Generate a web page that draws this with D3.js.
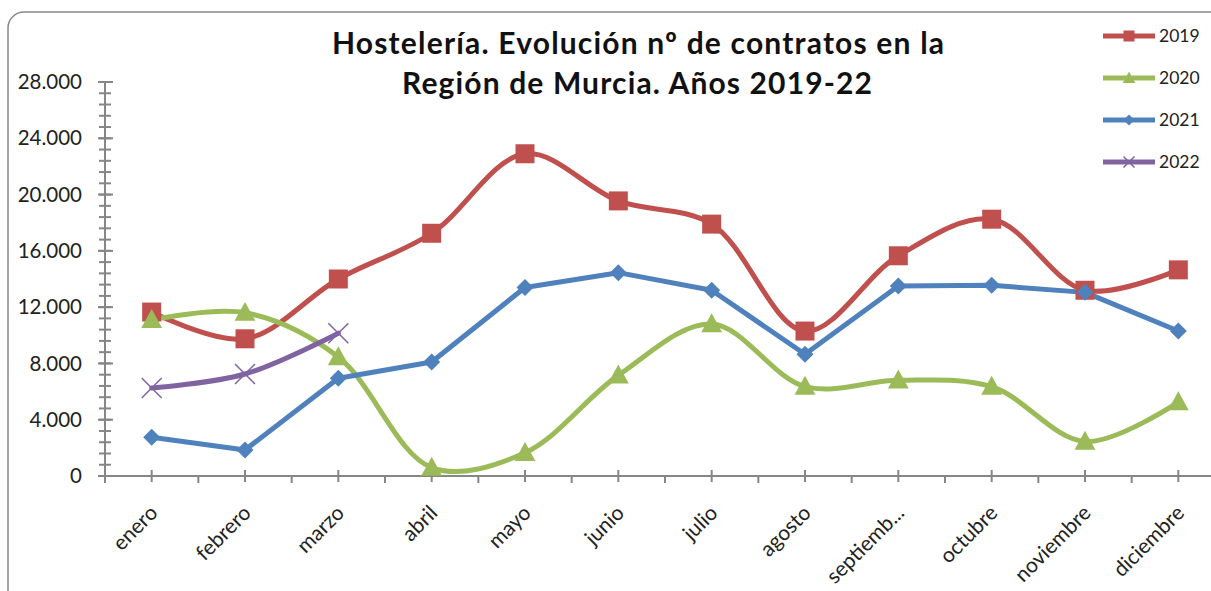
<!DOCTYPE html>
<html>
<head>
<meta charset="utf-8">
<script src="https://cdn.jsdelivr.net/npm/d3@7"></script>
<style>
  body { margin: 0; background: #fff; }
  svg { display: block; font-family: Lato, "Open Sans", sans-serif; }
</style>
</head>
<body>
<div id="chart"></div>
<script>
// Monate (Kategorien)
const meses = ["enero", "febrero", "marzo", "abril", "mayo", "junio", "julio",
  "agosto", "septiemb...", "octubre", "noviembre", "diciembre"];

// Werte pro Jahr
const v2019 = [11650, 9750, 14000, 17250, 22900, 19550, 17900, 10300, 15650, 18250, 13200, 14650];
const v2020 = [11100, 11600, 8450, 600, 1650, 7150, 10800, 6350, 6800, 6350, 2450, 5250];
const v2021 = [2750, 1850, 6950, 8100, 13400, 14450, 13200, 8650, 13500, 13550, 13050, 10300];
const v2022 = [6250, 7250, 10150];

const yTicks = [0, 4000, 8000, 12000, 16000, 20000, 24000, 28000];

const series = [
  { name: "2019", values: v2019, color: "#C0504D", marker: "square", smooth: true },
  { name: "2020", values: v2020, color: "#9BBB59", marker: "triangle", smooth: true },
  { name: "2021", values: v2021, color: "#4F81BD", marker: "diamond", smooth: false },
  { name: "2022", values: v2022, color: "#8064A2", marker: "cross", smooth: true },
];

const width = 1211, height = 591;
const x0 = 105, x1 = 1225, yTop = 82, yBottom = 476;

const svg = d3.select("#chart").append("svg")
  .attr("width", width)
  .attr("height", height);

// Rahmen
svg.append("rect")
  .attr("x", 8).attr("y", 12)
  .attr("width", 1250).attr("height", 640)
  .attr("rx", 16)
  .attr("fill", "#fff")
  .attr("stroke", "#888")
  .attr("stroke-width", 1.5);

// Skalen
const x = d3.scaleBand().domain(meses).range([x0, x1]);
const xc = d => x(d) + x.bandwidth() / 2;
const y = d3.scaleLinear().domain([0, 28000]).range([yBottom, yTop]);

const fmt = d3.formatLocale({ decimal: ",", thousands: ".", grouping: [3], currency: ["", "€"] }).format(",.0f");

// Y-Achse
const yAxis = svg.append("g").attr("transform", `translate(${x0},0)`);
yAxis.append("line")
  .attr("y1", y(0)).attr("y2", y(28000))
  .attr("stroke", "#868686").attr("stroke-width", 2);
yAxis.selectAll(".minor")
  .data(d3.range(0, 28001, 800))
  .join("line")
  .attr("x1", -6).attr("x2", 6)
  .attr("y1", d => y(d)).attr("y2", d => y(d))
  .attr("stroke", "#868686").attr("stroke-width", 2);
yAxis.selectAll(".major")
  .data(yTicks)
  .join("line")
  .attr("x1", -7).attr("x2", 8)
  .attr("y1", d => y(d)).attr("y2", d => y(d))
  .attr("stroke", "#868686").attr("stroke-width", 2);
yAxis.selectAll("text")
  .data(yTicks)
  .join("text")
  .attr("x", -23)
  .attr("y", d => y(d))
  .attr("dy", "0.35em")
  .attr("text-anchor", "end")
  .attr("font-size", 20.5)
  .attr("fill", "#222")
  .text(d => fmt(d));

// X-Achse
const xAxis = svg.append("g").attr("transform", `translate(0,${yBottom})`);
xAxis.append("line")
  .attr("x1", x0).attr("x2", x1)
  .attr("stroke", "#868686").attr("stroke-width", 2);
xAxis.selectAll(".major")
  .data(meses)
  .join("line")
  .attr("x1", d => xc(d)).attr("x2", d => xc(d))
  .attr("y1", -6).attr("y2", 6)
  .attr("stroke", "#868686").attr("stroke-width", 2);
xAxis.selectAll(".minor")
  .data(meses)
  .join("line")
  .attr("x1", d => x(d)).attr("x2", d => x(d))
  .attr("y1", 0).attr("y2", 7)
  .attr("stroke", "#868686").attr("stroke-width", 2);
xAxis.selectAll("text")
  .data(meses)
  .join("text")
  .attr("transform", d => `translate(${xc(d) + 2},${33}) rotate(-45)`)
  .attr("text-anchor", "end")
  .attr("dy", "0.35em")
  .attr("font-size", 21)
  .attr("fill", "#222")
  .text(d => d);

// Marker
function drawMarker(g, type, color, s) {
  if (type === "square") {
    g.append("rect").attr("x", -s / 2).attr("y", -s / 2).attr("width", s).attr("height", s)
      .attr("fill", color);
  } else if (type === "triangle") {
    g.append("path").attr("d", `M0,${-s * 0.6}L${s * 0.58},${s * 0.45}L${-s * 0.58},${s * 0.45}Z`)
      .attr("fill", color);
  } else if (type === "diamond") {
    g.append("path").attr("d", `M0,${-s / 2}L${s / 2},0L0,${s / 2}L${-s / 2},0Z`)
      .attr("fill", color);
  } else if (type === "cross") {
    g.append("path").attr("d", `M${-s / 2},${-s / 2}L${s / 2},${s / 2}M${s / 2},${-s / 2}L${-s / 2},${s / 2}`)
      .attr("stroke", color).attr("stroke-width", 1.5).attr("fill", "none");
  }
}

const markerSize = { square: 19, triangle: 18, diamond: 17, cross: 20 };

// Linien
series.forEach(s => {
  const line = d3.line()
    .x((d, i) => xc(meses[i]))
    .y(d => y(d))
    .curve(s.smooth ? d3.curveCatmullRom.alpha(0.5) : d3.curveLinear);
  svg.append("path")
    .datum(s.values)
    .attr("d", line)
    .attr("fill", "none")
    .attr("stroke", s.color)
    .attr("stroke-width", 5)
    .attr("stroke-linejoin", "round")
    .attr("stroke-linecap", "round");
});
series.forEach(s => {
  s.values.forEach((v, i) => {
    const g = svg.append("g").attr("transform", `translate(${xc(meses[i])},${y(v)})`);
    drawMarker(g, s.marker, s.color, markerSize[s.marker]);
  });
});

// Titel
const title = svg.append("text")
  .attr("text-anchor", "middle")
  .attr("font-size", 30)
  .attr("font-weight", "bold")
  .attr("fill", "#111");
title.append("tspan").attr("x", 638).attr("y", 54)
  .attr("textLength", 612).attr("lengthAdjust", "spacing")
  .text("Hostelería. Evolución nº de contratos en la");
title.append("tspan").attr("x", 637).attr("y", 94)
  .attr("textLength", 470).attr("lengthAdjust", "spacing")
  .text("Región de Murcia. Años 2019-22");

// Legende
const legend = svg.append("g");
series.forEach((s, i) => {
  const ly = 36 + i * 42;
  const g = legend.append("g").attr("transform", `translate(0,${ly})`);
  g.append("line").attr("x1", 1103).attr("x2", 1155).attr("stroke", s.color).attr("stroke-width", 5);
  const mg = g.append("g").attr("transform", "translate(1129,0)");
  drawMarker(mg, s.marker, s.color, 11);
  g.append("text")
    .attr("x", 1159).attr("dy", "0.35em")
    .attr("font-size", 17.5).attr("fill", "#222")
    .text(s.name);
});
</script>
</body>
</html>
